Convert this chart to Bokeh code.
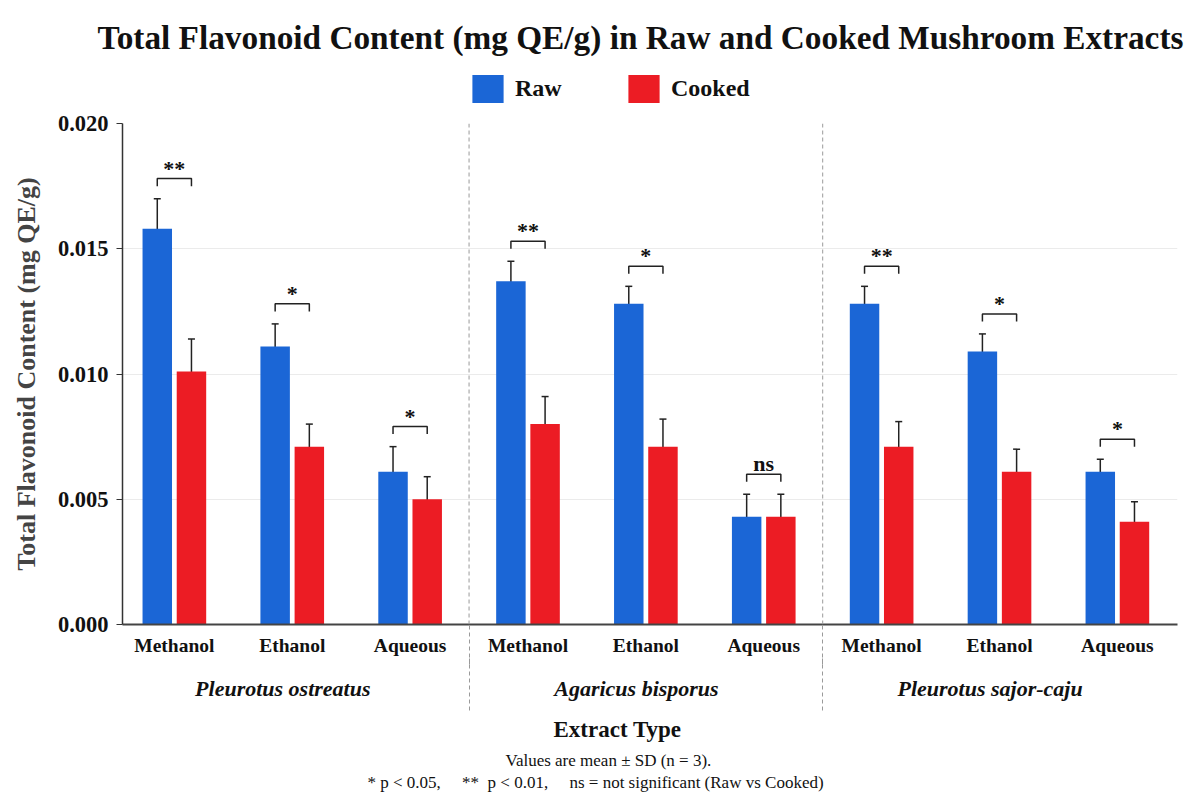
from bokeh.plotting import figure
from bokeh.layouts import column
from bokeh.models import (ColumnDataSource, Whisker, TeeHead, FixedTicker, NumeralTickFormatter,
                          Legend, LegendItem, Range1d, Span, LinearAxis, Title)
from bokeh.core.properties import value
from bokeh.embed import file_html
from bokeh.resources import INLINE

# ---- data -------------------------------------------------------------
species = ["Pleurotus ostreatus", "Agaricus bisporus", "Pleurotus sajor-caju"]
extracts = ["Methanol", "Ethanol", "Aqueous"]

raw_mean = [0.0158, 0.0111, 0.0061, 0.0137, 0.0128, 0.0043, 0.0128, 0.0109, 0.0061]
raw_sd = [0.0012, 0.0009, 0.0010, 0.0008, 0.0007, 0.0009, 0.0007, 0.0007, 0.0005]
cooked_mean = [0.0101, 0.0071, 0.0050, 0.0080, 0.0071, 0.0043, 0.0071, 0.0061, 0.0041]
cooked_sd = [0.0013, 0.0009, 0.0009, 0.0011, 0.0011, 0.0009, 0.0010, 0.0009, 0.0008]
significance = ["**", "*", "*", "**", "*", "ns", "**", "*", "*"]

y_ticks = [0.0, 0.005, 0.010, 0.015, 0.020]

# ---- styling ------------------------------------------------------------
FONT = "Liberation Serif"
INK = "#111111"
BLUE = "#1b66d6"
RED = "#ec1c24"
SEP = "#9a9a9a"
BAR_W = 0.25
OFFSET = 0.145
BRACKET_GAP = 0.0008
BRACKET_TICK = 0.0003
SPECIES_SHIFT = -0.08
NB = "\u00a0"

W = 1189
HEAD_H = 103
MAIN_H = 796 - HEAD_H

n = len(raw_mean)
xs = list(range(n))
x_raw = [x - OFFSET for x in xs]
x_cook = [x + OFFSET for x in xs]
group_centres = [3 * k + 1 + SPECIES_SHIFT for k in range(len(species))]
separators = [3 * k + 2.5 for k in range(len(species) - 1)]

src = ColumnDataSource(dict(
    x=xs, x_raw=x_raw, x_cook=x_cook,
    raw=raw_mean, cooked=cooked_mean,
    raw_up=[m + s for m, s in zip(raw_mean, raw_sd)],
    raw_lo=[m - s for m, s in zip(raw_mean, raw_sd)],
    ck_up=[m + s for m, s in zip(cooked_mean, cooked_sd)],
    ck_lo=[m - s for m, s in zip(cooked_mean, cooked_sd)],
))

# ---- header: title and legend ------------------------------------------
head = figure(width=W, height=HEAD_H, output_backend="svg", toolbar_location=None,
              x_range=Range1d(0, W), y_range=Range1d(0, HEAD_H),
              x_axis_type=None, y_axis_type=None, min_border=0)
head.frame_align = False
head.outline_line_color = None
head.grid.grid_line_color = None
head.background_fill_color = "white"
head.border_fill_color = "white"
head.text(x=[97], y=[HEAD_H - 37],
          text=["Total Flavonoid Content (mg QE/g) in Raw and Cooked Mushroom Extracts"],
          text_align="left", text_baseline="alphabetic", text_font=value(FONT),
          text_font_style="bold", text_font_size="33.3px", text_color=INK)
# zero-height key bars: they only lend their fill to the legend swatches
key_raw = head.vbar(x=[0], top=[0], width=1, fill_color=BLUE, line_color=None)
key_ck = head.vbar(x=[0], top=[0], width=1, fill_color=RED, line_color=None)
legend = Legend(items=[LegendItem(label="Raw", renderers=[key_raw]),
                       LegendItem(label="Cooked", renderers=[key_ck])],
                orientation="horizontal", location=(468, -3),
                glyph_width=39, glyph_height=35, label_standoff=8,
                label_width=100, spacing=9,
                padding=0, margin=0, border_line_color=None, background_fill_alpha=0,
                label_text_font=FONT, label_text_font_style="bold",
                label_text_font_size="24px", label_text_color=INK)
head.add_layout(legend)

# ---- main chart -----------------------------------------------------------
p = figure(width=W, height=MAIN_H, output_backend="svg", toolbar_location=None,
           x_range=Range1d(-0.44, 8.51), y_range=Range1d(0, 0.020),
           min_border_left=122, min_border_right=12, min_border_top=20, min_border_bottom=171)
p.frame_align = False
p.outline_line_color = None
p.background_fill_color = "white"
p.border_fill_color = "white"

# grid
p.xgrid.grid_line_color = None
p.ygrid.grid_line_color = "#ebebeb"
p.ygrid.grid_line_width = 1
p.ygrid.ticker = FixedTicker(ticks=y_ticks)

# y axis
p.yaxis.ticker = FixedTicker(ticks=y_ticks)
p.yaxis.formatter = NumeralTickFormatter(format="0.000")
p.yaxis.axis_label = "Total Flavonoid Content (mg QE/g)"
p.yaxis.axis_label_text_font = FONT
p.yaxis.axis_label_text_font_style = "bold"
p.yaxis.axis_label_text_font_size = "26px"
p.yaxis.axis_label_standoff = 14
p.yaxis.major_label_text_font = FONT
p.yaxis.major_label_text_font_style = "bold"
p.yaxis.major_label_text_font_size = "22.5px"
p.yaxis.major_label_text_color = INK
p.yaxis.major_label_standoff = 8
p.yaxis.major_tick_out = 6
p.yaxis.major_tick_in = 0
p.yaxis.minor_tick_line_color = None
p.yaxis.axis_line_color = "#333333"
p.yaxis.axis_line_width = 1.5
p.yaxis.major_tick_line_color = "#333333"

# x axis: extract names; dashed minor ticks continue the species separators
CAT_SEP = 40
p.xaxis.ticker = FixedTicker(ticks=xs, minor_ticks=separators)
p.xaxis.major_label_overrides = {i: extracts[i % 3] for i in xs}
p.xaxis.major_label_text_font = FONT
p.xaxis.major_label_text_font_style = "bold"
p.xaxis.major_label_text_font_size = "19.5px"
p.xaxis.major_label_text_color = INK
p.xaxis.major_label_standoff = 10 - CAT_SEP
p.xaxis.major_tick_line_color = None
p.xaxis.major_tick_out = 0
p.xaxis.minor_tick_line_color = SEP
p.xaxis.minor_tick_line_dash = "4 3"
p.xaxis.minor_tick_line_width = 1
p.xaxis.minor_tick_out = CAT_SEP
p.xaxis.minor_tick_in = 0
p.xaxis.axis_line_color = "#444444"
p.xaxis.axis_line_width = 2

# second x axis: species names, separators carried on further down
SP_SEP = 52
sp_axis = LinearAxis(ticker=FixedTicker(ticks=group_centres, minor_ticks=separators),
                     major_label_overrides={c: s for c, s in zip(group_centres, species)},
                     axis_line_color=None, major_tick_line_color=None,
                     minor_tick_line_color=SEP, minor_tick_line_dash="4 3", minor_tick_line_width=1,
                     minor_tick_out=SP_SEP, minor_tick_in=0,
                     major_tick_out=0, major_label_standoff=17 - SP_SEP,
                     major_label_text_font=FONT, major_label_text_font_style="bold italic",
                     major_label_text_font_size="22px", major_label_text_color=INK)
p.add_layout(sp_axis, "below")

# bars
p.vbar(x="x_raw", top="raw", width=BAR_W, source=src, fill_color=BLUE, line_color=None)
p.vbar(x="x_cook", top="cooked", width=BAR_W, source=src, fill_color=RED, line_color=None)

# error bars
for base, up, lo in (("x_raw", "raw_up", "raw_lo"), ("x_cook", "ck_up", "ck_lo")):
    w = Whisker(source=src, base=base, upper=up, lower=lo, dimension="height",
                line_color="#222222", line_width=1.5,
                upper_head=TeeHead(size=7, line_color="#222222", line_width=1.5),
                lower_head=TeeHead(size=7, line_color="#222222", line_width=1.5))
    p.add_layout(w)

# significance brackets
bx, by, tx, ty = [], [], [], []
for i in xs:
    top = max(raw_mean[i] + raw_sd[i], cooked_mean[i] + cooked_sd[i]) + BRACKET_GAP
    bx.append([x_raw[i], x_raw[i], x_cook[i], x_cook[i]])
    by.append([top - BRACKET_TICK, top, top, top - BRACKET_TICK])
    tx.append(xs[i])
    ty.append(top)
p.multi_line(xs=bx, ys=by, line_color="#222222", line_width=1.5)
p.text(x=tx, y=ty, text=significance, text_align="center", text_baseline="bottom",
       y_offset=2, text_font=value(FONT), text_font_style="bold", text_font_size="22px",
       text_color=INK)

# separators between species
for sx in separators:
    p.add_layout(Span(location=sx, dimension="height", line_color=SEP,
                      line_width=1, line_dash="4 3"))

# axis title and notes below the chart
footnote = ("*" + NB + "p < 0.05," + NB * 5 + "**" + NB * 2 + "p < 0.01," + NB * 5
            + "ns = not significant (Raw vs Cooked)")
notes = [
    ("Extract Type", 431, "23px", "bold", 22),
    ("Values are mean \u00b1 SD (n = 3).", 383, "17px", "normal", -7),
    (footnote, 245, "17px", "normal", 9),
]
for text, off, size, style, stand in notes:
    p.add_layout(Title(text=text, align="left", offset=off, text_font=FONT,
                       text_font_style=style, text_font_size=size, text_color=INK,
                       standoff=stand), "below")

layout = column(head, p, spacing=0)
open("out.html", "w").write(file_html(layout, INLINE))
